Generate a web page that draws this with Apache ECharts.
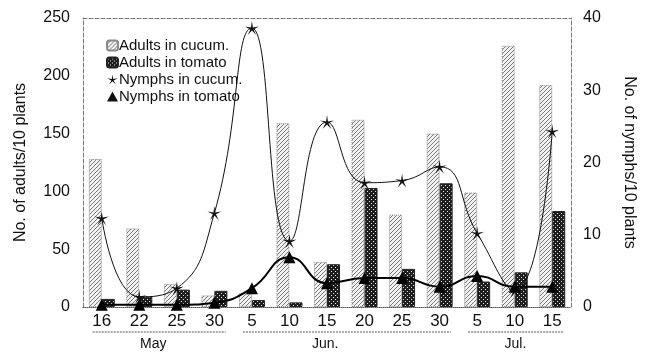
<!DOCTYPE html>
<html>
<head>
<meta charset="utf-8">
<script src="https://cdn.jsdelivr.net/npm/echarts@6/dist/echarts.min.js"></script>
<style>html,body{margin:0;padding:0;background:#fff;}#c{width:648px;height:352px;}</style>
</head>
<body>
<div id="c"></div>
<script>
const categories = ['16','22','25','30','5','10','15','20','25','30','5','10','15'];
const adultsCucum = [128, 68, 20, 10, 12, 159, 39, 162, 80, 150, 99, 226, 192];
const adultsTomato = [7, 9, 15, 14, 6, 4, 37, 103, 33, 107, 22, 30, 83];
const nymphsCucum = [12.3, 1.4, 2.6, 13, 38.6, 9.1, 25.6, 17.2, 17.5, 19.4, 10.2, 2.3, 24.3];
const nymphsTomato = [0.3, 0.3, 0.3, 0.6, 2.6, 6.9, 3.3, 4.0, 4.0, 2.8, 4.3, 2.8, 2.8];
const leftTicks = [0, 50, 100, 150, 200, 250];
const rightTicks = [0, 10, 20, 30, 40];
const monthLabels = ['May', 'Jun.', 'Jul.'];
const monthLabelPos = [1.87, 6.45, 11.52];
const monthFirstIdx = [0, 4, 10];
const monthLastIdx = [3, 9, 12];

function makePattern(kind) {
  const cv = document.createElement('canvas');
  cv.width = 4; cv.height = 4;
  const g = cv.getContext('2d');
  if (kind === 'diag') {
    g.fillStyle = '#f2f2f2'; g.fillRect(0, 0, 4, 4);
    g.strokeStyle = '#7a7a7a'; g.lineWidth = 1;
    g.beginPath(); g.moveTo(-1, 5); g.lineTo(5, -1); g.stroke();
    g.beginPath(); g.moveTo(-1, 1); g.lineTo(1, -1); g.stroke();
    g.beginPath(); g.moveTo(3, 5); g.lineTo(5, 3); g.stroke();
  } else {
    g.fillStyle = '#1e1e1e'; g.fillRect(0, 0, 4, 4);
    g.fillStyle = '#e0e0e0';
    g.fillRect(1, 1, 1, 1); g.fillRect(3, 3, 1, 1);
  }
  return { image: cv, repeat: 'repeat' };
}

function starPath(n, ro, ri) {
  let s = '';
  for (let i = 0; i < n * 2; i++) {
    const r = i % 2 === 0 ? ro : ri;
    const a = -Math.PI / 2 + i * Math.PI / n;
    const x = (10 + r * Math.cos(a)).toFixed(2), y = (10 + r * Math.sin(a)).toFixed(2);
    s += (i === 0 ? 'M' : 'L') + x + ' ' + y + ' ';
  }
  return 'path://' + s + 'Z';
}
const starSym = starPath(5, 10, 2.2);
const fontFam = 'Liberation Sans, Arial, sans-serif';

const chart = echarts.init(document.getElementById('c'), null, { renderer: 'canvas' });
const option = {
  animation: false,
  backgroundColor: '#fff',
  grid: { left: 83, right: 77, top: 18, bottom: 45, show: false },
  legend: {
    orient: 'vertical', left: 101, top: 33, itemGap: 2, itemWidth: 11, itemHeight: 10,
    textStyle: { fontFamily: fontFam, fontSize: 15, color: '#111', padding: [0, 0, 0, -4] },
    data: [
      { name: 'Adults in cucum.' },
      { name: 'Adults in tomato' },
      { name: 'Nymphs in cucum.', icon: starSym, itemStyle: { color: '#111' } },
      { name: 'Nymphs in tomato', icon: 'triangle', itemStyle: { color: '#111' } }
    ]
  },
  xAxis: [
    {
      type: 'category', data: categories, position: 'bottom',
      axisLine: { show: true, lineStyle: { color: '#555', width: 1, type: 'dotted' } },
      axisTick: { show: false },
      axisLabel: { fontFamily: fontFam, fontSize: 17, color: '#111', margin: 6 }
    },
    {
      type: 'value', min: 0, max: 13, position: 'bottom', offset: 30,
      axisLine: { show: false }, axisTick: { show: false }, splitLine: { show: false },
      axisLabel: {
        fontFamily: fontFam, fontSize: 14, color: '#111', margin: 0,
        customValues: monthLabelPos,
        formatter: function (v) {
          const i = monthLabelPos.indexOf(v);
          return i >= 0 ? monthLabels[i] : '';
        }
      }
    },
    {
      type: 'category', data: categories, position: 'top',
      axisLine: { show: true, lineStyle: { color: '#777', width: 1, type: 'dashed' } },
      axisTick: { show: false }, axisLabel: { show: false }
    }
  ],
  yAxis: [
    {
      type: 'value', min: 0, max: 250, interval: 50,
      name: 'No. of adults/10 plants', nameLocation: 'middle', nameGap: 54, nameRotate: 90,
      nameTextStyle: { fontFamily: fontFam, fontSize: 16, color: '#111' },
      axisLine: { show: true, lineStyle: { color: '#777', type: 'dashed' } },
      axisTick: { show: false }, splitLine: { show: false },
      axisLabel: { fontFamily: fontFam, fontSize: 16, color: '#111', margin: 13,
        customValues: leftTicks }
    },
    {
      type: 'value', min: 0, max: 40, interval: 10, position: 'right',
      name: 'No. of nymphs/10 plants', nameLocation: 'middle', nameGap: 50, nameRotate: -90,
      nameTextStyle: { fontFamily: fontFam, fontSize: 16, color: '#111' },
      axisLine: { show: true, lineStyle: { color: '#777', type: 'dashed' } },
      axisTick: { show: false }, splitLine: { show: false },
      axisLabel: { fontFamily: fontFam, fontSize: 16, color: '#111', margin: 12,
        customValues: rightTicks }
    }
  ],
  series: [
    {
      name: 'Adults in cucum.', type: 'bar', data: adultsCucum, barWidth: 13, barGap: '0%',
      itemStyle: { color: makePattern('diag'), borderColor: '#8a8a8a', borderWidth: 1, borderType: 'dotted' }
    },
    {
      name: 'Adults in tomato', type: 'bar', data: adultsTomato, barWidth: 13, barGap: '0%',
      itemStyle: { color: makePattern('check'), borderColor: '#222', borderWidth: 1 }
    },
    {
      name: 'Nymphs in cucum.', type: 'line', yAxisIndex: 1, data: nymphsCucum, smooth: 0.5,
      symbol: starSym, symbolSize: 14, z: 5,
      lineStyle: { color: '#111', width: 1 },
      itemStyle: { color: '#111' }
    },
    {
      name: 'Nymphs in tomato', type: 'line', yAxisIndex: 1, data: nymphsTomato, smooth: 0.5,
      symbol: 'triangle', symbolSize: 12, z: 6,
      lineStyle: { color: '#000', width: 2 },
      itemStyle: { color: '#000' }
    }
  ]
};
chart.setOption(option);

// month underlines under tick labels, placed via the month value axis
function drawUnderlines() {
  const els = [];
  const yPix = 332;
  for (let m = 0; m < monthLabels.length; m++) {
    const x0 = chart.convertToPixel({ xAxisIndex: 1 }, monthFirstIdx[m] + 0.5 - 0.24);
    const x1 = chart.convertToPixel({ xAxisIndex: 1 }, monthLastIdx[m] + 0.5 + 0.3);
    els.push({
      type: 'line', shape: { x1: x0, y1: yPix, x2: x1, y2: yPix },
      style: { stroke: '#555', lineWidth: 1, lineDash: [2, 1] }, silent: true
    });
  }
  chart.setOption({ graphic: els });
}
drawUnderlines();
</script>
</body>
</html>
